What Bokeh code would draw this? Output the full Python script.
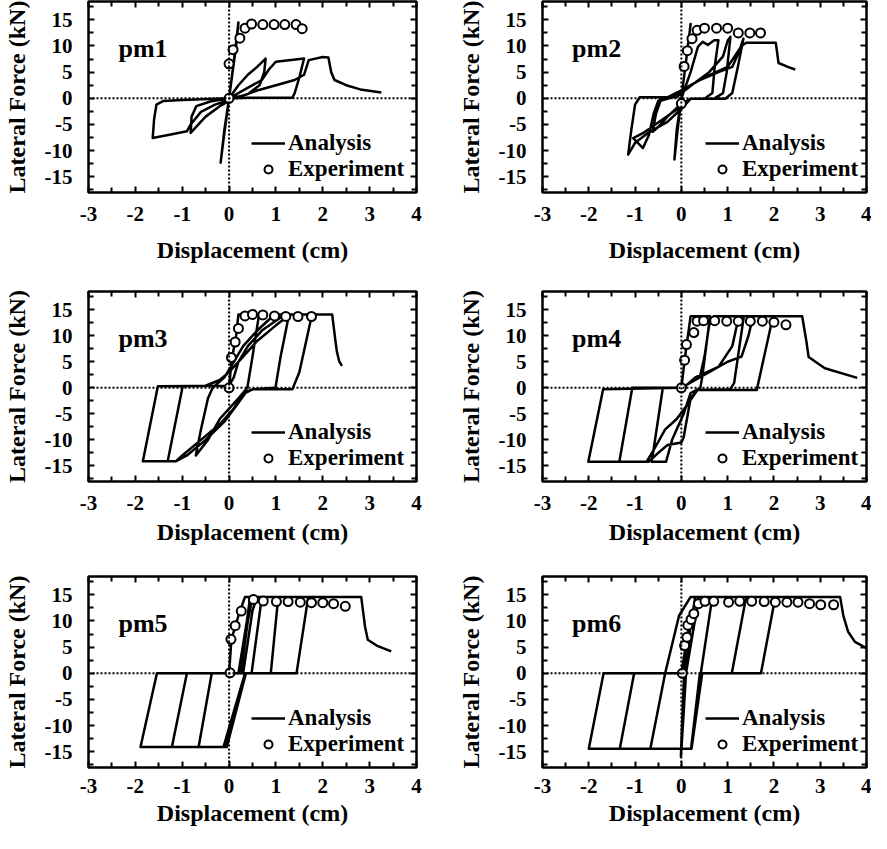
from bokeh.plotting import figure
from bokeh.models import FixedTicker, LinearAxis, Span, Legend, LegendItem, Range1d
from bokeh.layouts import column, row
from bokeh.embed import file_html
from bokeh.resources import INLINE
from bokeh.core.properties import value

FONT = "Liberation Serif"

# ---- axes ticks / labels ----
x_ticks = [-3, -2, -1, 0, 1, 2, 3, 4]
x_minor = [-2.5, -1.5, -0.5, 0.5, 1.5, 2.5, 3.5]
x_labels = ["-3", "-2", "-1", "0", "1", "2", "3", "4"]
y_ticks = [-15, -10, -5, 0, 5, 10, 15]
y_minor = [-17.5, -12.5, -7.5, -2.5, 2.5, 7.5, 12.5, 17.5]
y_labels = ["-15", "-10", "-5", "0", "5", "10", "15"]

# ---- pm1 ----
pm1_x = [0, 0.1, 0.2, 0.15, 0, -0.1, -0.18, -0.12, 0,
         0.2, 0.4, 0.6, 0.78, 0.75, 0.65, 0.4, 0.1, -0.2, -0.5, -0.82, -0.8, -0.7, -0.4, 0,
         0.3, 0.7, 0.85, 1.0, 1.6, 1.5, 1.4, 1.35, 0.4, 0.1, -0.3, -0.6, -0.82, -0.9, -1.3, -1.63,
         -1.6, -1.55, -1.4, -1.0, -0.3, 0,
         0.3, 0.6, 1.0, 1.4, 1.6, 1.7, 2.0, 2.12, 2.18, 2.25, 2.5, 2.8, 3.25]
pm1_y = [0, 7, 14.5, 10, 0, -6, -12.3, -8, 0,
         2.5, 4.5, 6, 7.6, 5, 2.5, 0.8, 0, -1.5, -3.5, -6.6, -3.5, -1.5, -0.6, 0,
         1.5, 3.5, 5.5, 7, 7.6, 4, 1, 0.1, 0.1, 0, -1.2, -2.6, -5, -6.3, -7, -7.6,
         -4, -1.2, -0.5, -0.3, -0.1, 0,
         0.5, 1.5, 2.5, 3.5, 4.5, 7.3, 7.9, 7.8, 5, 3.5, 2.5, 1.7, 1.1]
pm1_ex = [0, 0.0, 0.085, 0.23, 0.34, 0.48, 0.72, 0.96, 1.19, 1.43, 1.56]
pm1_ey = [0, 6.6, 9.3, 11.5, 13.4, 14.2, 14.1, 14.1, 14.1, 14.1, 13.3]

# ---- pm2 ----
pm2_x = [0, 0.1, 0.2, 0.1, 0, -0.08, -0.15, -0.1, 0,
         0.2, 0.36, 0.46, 0.57, 0.71, 0.8, 0.72, 0.67, 0.5, 0.2, 0, -0.3, -0.5, -0.62, -0.55, -0.45, -0.2, 0,
         0.3, 0.6, 0.9, 1.0, 1.06, 0.98, 0.9, 0.7, 0.2, 0, -0.4, -0.8, -1.04, -0.83, -0.7, -0.6, -0.5, -0.3, 0,
         0.4, 0.8, 1.1, 1.25, 1.34, 1.22, 1.1, 0.95, 0.2, 0, -0.3, -0.7, -1.0, -1.15, -1.08, -1.0, -0.9, -0.1,
         0.1, 0.5, 1.0, 1.3, 1.4, 2.04, 2.1, 2.3, 2.46]
pm2_y = [0, 7, 14.2, 7, 0, -6, -11.7, -6, 0,
         5, 9.9, 10.8, 10.2, 11.1, 11.1, 6, 1, -0.1, -0.1, -1, -3.5, -5.5, -6.4, -3, -0.5, 0.2, 1,
         3, 5, 8, 11, 11.75, 5, 1, -0.1, -0.1, -1.5, -4, -6.5, -7.6, -9.5, -7, -3, -0.5, 0.2, 1.5,
         3.5, 5, 6, 9, 11.4, 6, 1, -0.1, -0.1, -2, -4.5, -6.5, -8.5, -10.75, -6, -1.2, 0.2, 0.2,
         2, 4, 6, 10, 10.6, 10.6, 6.75, 6, 5.5]
pm2_ex = [0, 0.06, 0.13, 0.23, 0.34, 0.5, 0.76, 1.0, 1.23, 1.48, 1.71]
pm2_ey = [-1, 6.1, 9.1, 11.4, 13, 13.4, 13.4, 13.4, 12.5, 12.5, 12.5]

# ---- pm3 ----
pm3_x = [0, 0.05, 0.15, 0.2, 0.64, 0.5, 0.39, 0.2, 0.0, -0.2, -0.45, -0.71, -0.6, -0.45, -0.35,
         -0.1, 0.1, 0.3, 0.6, 0.9, 0.99, 1.28, 1.1, 0.99, 0.5, 0.3, 0.1, -0.2, -0.6, -1.0,
         -1.13, -1.31, -0.99, -0.5, -0.2, 0.0, 0.3, 0.6, 1.0, 1.3, 1.77, 1.5, 1.35, 0.5, 0.35,
         0.15, -0.1, -0.5, -0.9, -1.13, -1.84, -1.52, 0.0, 0.1, 0.2, 0.4, 0.7, 1.1, 1.2, 2.2,
         2.27, 2.3, 2.35, 2.41]
pm3_y = [0, 5, 10, 14.1, 14.1, 6, 0, -2, -4, -6, -10, -13, -8, -2, 0,
         2, 5, 8, 11, 13.5, 14.1, 14.1, 6, 0, -0.3, -1, -4, -7, -10, -13,
         -14.1, -14.1, 0.3, 0.4, 1.5, 3, 6, 9, 12, 14.1, 14.1, 3, -0.3, -0.3, -1,
         -3.5, -6.5, -10, -13, -14.1, -14.1, 0.3, 0.4, 2, 5, 8, 11, 13.5, 14.1, 14.1,
         9, 7, 5.1, 4.2]
pm3_ex = [0, 0.05, 0.13, 0.2, 0.34, 0.5, 0.72, 0.97, 1.21, 1.47, 1.76]
pm3_ey = [0, 5.8, 8.8, 11.4, 13.8, 14.1, 14, 13.8, 13.7, 13.7, 13.7]

# ---- pm4 ----
pm4_x = [0, 0.08, 0.2, 0.62, 0.45, 0.41, 0.2, 0.05, -0.2, -0.33, -0.64, -0.4, 0.05, 0.3, 0.8,
         1.1, 1.2, 1.25, 1.35, 1.14, 1.05, 0.35, 0.2, 0.05, 0.0, -0.3, -0.5, -0.7, -1.34, -1.06,
         0.0, 0.3, 0.6, 1.0, 1.3, 1.45, 1.55, 1.98, 1.63, 0.35, 0.15, -0.1, -0.35, -0.6, -0.75,
         -2.01, -1.69, 0.0, 0.1, 0.4, 0.5, 0.6, 0.7, 2.61, 2.7, 2.75, 3.1, 3.8]
pm4_y = [0, 6, 13.75, 13.75, 2, 0, -1, -5, -10, -14.2, -14.2, 0, 0, 2, 4,
         8, 12, 13.75, 13.75, 0.9, -0.3, -0.4, -2, -9.5, -10.5, -11, -12.5, -14.2, -14.2, 0,
         0, 1.5, 3, 5, 6, 10, 13.75, 13.75, -0.4, -0.4, -3, -6, -8, -12, -14.2,
         -14.2, -0.3, 0, 0.5, 2, 6, 12, 13.75, 13.75, 9, 5.9, 3.75, 1.9]
pm4_ex = [0, 0.07, 0.11, 0.27, 0.34, 0.48, 0.72, 0.98, 1.23, 1.49, 1.75, 2.0, 2.26]
pm4_ey = [0, 5.3, 8.3, 10.6, 12.8, 12.9, 12.9, 12.8, 12.8, 12.8, 12.8, 12.6, 12.1]

# ---- pm5 ----
pm5_x = [0, 0.05, 0.2, 0.34, 0.7, 0.48, 0.34, -0.12, -0.65, -0.37, 0.2, 0.38, 0.45, 1.05, 0.89,
         0.36, -0.05, -1.22, -0.9, 0.25, 0.4, 0.5, 1.69, 1.44, 0.36, -0.1, -1.89, -1.54, 0.3, 0.5,
         0.6, 2.82, 2.9, 2.96, 3.15, 3.46]
pm5_y = [0, 6.5, 11, 14.6, 14.6, 0, 0, -14.1, -14.1, 0, 0, 10, 14.6, 14.6, 0,
         0, -14.1, -14.1, 0, 0, 10, 14.6, 14.6, 0, 0, -14.1, -14.1, 0, 0, 12,
         14.6, 14.6, 9, 6.4, 5.3, 4.2]
pm5_ex = [0.02, 0.04, 0.13, 0.26, 0.52, 0.73, 1.01, 1.26, 1.52, 1.76, 2.0, 2.23, 2.48]
pm5_ey = [0.1, 6.5, 9.1, 11.9, 14.1, 13.8, 13.7, 13.7, 13.6, 13.5, 13.5, 13.3, 12.8]

# ---- pm6 ----
pm6_x = [0, 0.2, 0.06, -0.01, 0.04, 0.1, 0.18, 0.3, 0.67, 0.42, 0.4, 0.21, -0.67, -0.35, -0.05,
         0.2, 1.4, 1.09, 0.45, 0.22, -1.33, -1.02, 0.1, 0.37, 2.03, 1.72, 0.45, 0.22, -2.0, -1.68,
         0.1, 0.38, 3.43, 3.5, 3.6, 3.75, 4.0]
pm6_y = [0, 11, 0, -15.9, -9, 0, 8, 14.6, 14.6, 0, 0, -14.4, -14.4, 0, 11,
         14.6, 14.6, 0, 0, -14.4, -14.4, 0, 0, 14.6, 14.6, 0, 0, -14.4, -14.4, 0,
         0, 14.6, 14.6, 11, 8, 6, 4.8]
pm6_ex = [0.02, 0.07, 0.12, 0.14, 0.21, 0.27, 0.37, 0.51, 0.7, 1.02, 1.26, 1.52, 1.79, 2.03,
          2.28, 2.52, 2.77, 3.01, 3.29]
pm6_ey = [0, 5.3, 6.9, 9.2, 10.3, 11.4, 13.3, 13.75, 13.75, 13.6, 13.75, 13.75, 13.7, 13.6,
          13.6, 13.6, 13.3, 13.1, 13.1]

panels = [
    ("pm1", pm1_x, pm1_y, pm1_ex, pm1_ey),
    ("pm2", pm2_x, pm2_y, pm2_ex, pm2_ey),
    ("pm3", pm3_x, pm3_y, pm3_ex, pm3_ey),
    ("pm4", pm4_x, pm4_y, pm4_ex, pm4_ey),
    ("pm5", pm5_x, pm5_y, pm5_ex, pm5_ey),
    ("pm6", pm6_x, pm6_y, pm6_ex, pm6_ey),
]

# layout geometry (pixels)
col_w = [454, 417]
col_bl = [84, 84]
col_br = [38, 5]
row_h = [290, 285, 258]
row_bt = [1, 1, 1]
row_bb = [98, 94, 66]
row_lab_standoff = [14, 14, 11]
row_title_standoff = [13, 6, 4]


def style_axis(ax, ticks, minor, labels, show):
    ax.ticker = FixedTicker(ticks=ticks, minor_ticks=minor)
    ax.axis_line_color = None
    ax.major_tick_in = 6
    ax.major_tick_out = 0
    ax.minor_tick_in = 5
    ax.minor_tick_out = 0
    ax.major_tick_line_width = 2
    ax.minor_tick_line_width = 2
    ax.major_tick_line_color = "black"
    ax.minor_tick_line_color = "black"
    if show:
        ax.major_label_overrides = {t: l for t, l in zip(ticks, labels)}
        ax.major_label_text_font = FONT
        ax.major_label_text_font_style = "bold"
        ax.major_label_text_font_size = "21px"
        ax.major_label_text_color = "black"
        ax.axis_label_text_font = FONT
        ax.axis_label_text_font_style = "bold"
        ax.axis_label_text_font_size = "24px"
        ax.axis_label_text_color = "black"
    else:
        # mirrored tick marks only: labels are not drawn
        ax.major_label_text_font_size = "1px"
        ax.major_label_text_color = None
        ax.major_label_standoff = 0


rows = []
for r in range(3):
    figs = []
    for c in range(2):
        name, ax_, ay_, ex_, ey_ = panels[r * 2 + c]
        p = figure(width=col_w[c], height=row_h[r],
                   x_range=Range1d(-3, 4), y_range=Range1d(-18, 18.5),
                   output_backend="svg", toolbar_location=None,
                   min_border_left=col_bl[c], min_border_right=col_br[c],
                   min_border_top=row_bt[r], min_border_bottom=row_bb[r],
                   x_axis_label="Displacement (cm)", y_axis_label="Lateral Force (kN)")
        p.grid.visible = False
        p.outline_line_color = "black"
        p.outline_line_width = 2.5
        p.background_fill_color = "white"
        p.border_fill_color = "white"

        xa = p.xaxis[0]
        ya = p.yaxis[0]
        style_axis(xa, x_ticks, x_minor, x_labels, True)
        style_axis(ya, y_ticks, y_minor, y_labels, True)
        xa.major_label_standoff = row_lab_standoff[r]
        xa.axis_label_standoff = row_title_standoff[r]
        ya.major_label_standoff = 16
        ya.axis_label_standoff = 12

        top = LinearAxis()
        style_axis(top, x_ticks, x_minor, x_labels, False)
        p.add_layout(top, "above")
        right = LinearAxis()
        style_axis(right, y_ticks, y_minor, y_labels, False)
        p.add_layout(right, "right")

        p.add_layout(Span(location=0, dimension="width", line_color="black",
                          line_width=2, line_dash="2 2"))
        p.add_layout(Span(location=0, dimension="height", line_color="black",
                          line_width=2, line_dash="2 2"))

        lr = p.line(ax_, ay_, line_color="black", line_width=2.5, line_join="round")
        sr = p.scatter(ex_, ey_, marker="circle", size=9, line_color="black",
                       line_width=2, fill_color="white")

        p.text(x=[-2.36], y=[9.5], text=[name], text_font=value(FONT),
               text_font_style="bold", text_font_size="26px",
               text_baseline="middle", text_align="left", text_color="black")

        legend = Legend(items=[LegendItem(label="Analysis", renderers=[lr]),
                               LegendItem(label="Experiment", renderers=[sr])],
                        location=(163, 10), orientation="vertical",
                        border_line_color=None, background_fill_alpha=0,
                        padding=0, margin=0, spacing=0,
                        glyph_width=34, glyph_height=20, label_height=25,
                        label_standoff=3, label_text_font=FONT,
                        label_text_font_size="23px", label_text_font_style="bold",
                        label_text_color="black")
        p.add_layout(legend)
        figs.append(p)
    rows.append(row(*figs))

layout = column(*rows)
open("out.html", "w").write(file_html(layout, INLINE))
